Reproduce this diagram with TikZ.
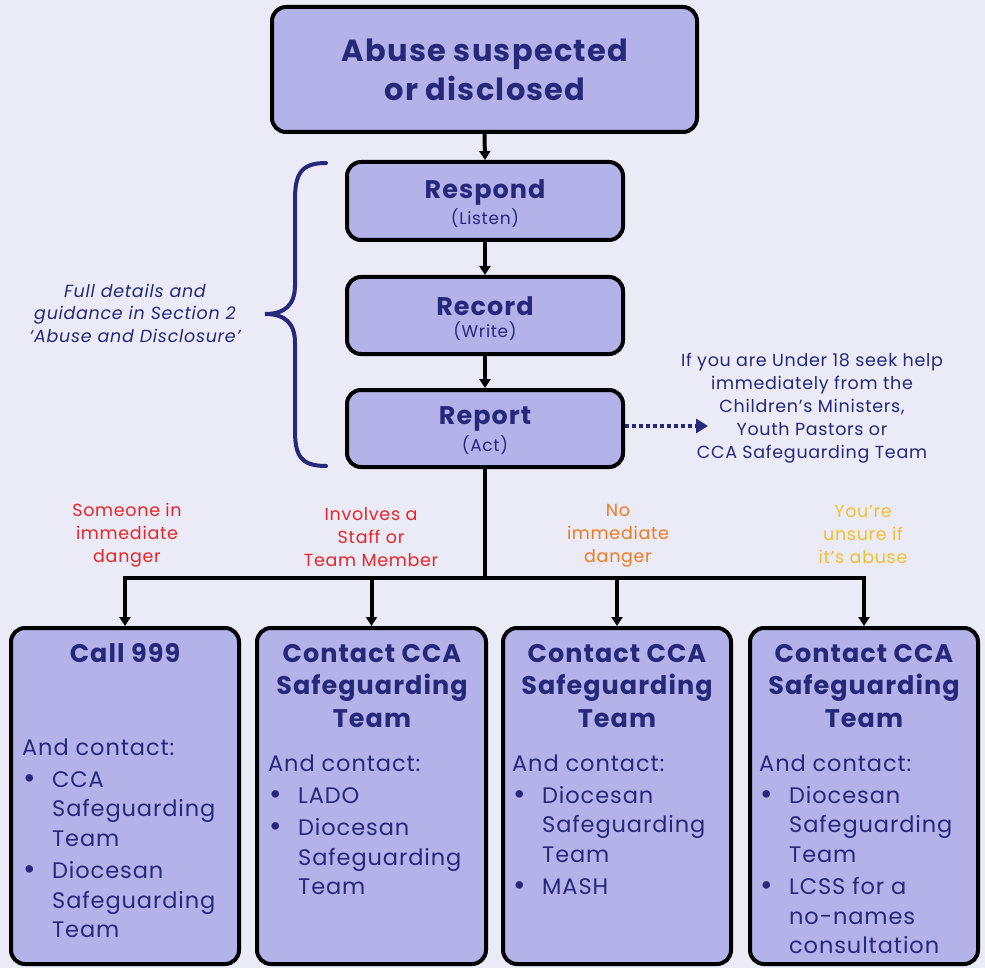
\documentclass[tikz,border=0pt]{standalone}
\usepackage{fontspec}
\setmainfont{Poppins}[LetterSpace=4]
\usetikzlibrary{arrows.meta}
\definecolor{bg}{HTML}{EBEAF7}
\definecolor{boxfill}{HTML}{B3B3EA}
\definecolor{navy}{HTML}{27287A}
\definecolor{lred}{HTML}{E8262A}
\definecolor{lorange}{HTML}{F07A20}
\definecolor{lyellow}{HTML}{F0C030}
\newcommand{\bul}{\makebox[30pt][l]{\hspace*{1pt}\raisebox{-1pt}{\scalebox{1.35}{\textbullet}}}}
\newcommand{\ind}{\hspace*{30pt}}
\begin{document}
\begin{tikzpicture}[x=1pt,y=-1pt,
  box/.style={draw=black,line width=4pt,rounded corners=14pt,fill=boxfill,inner sep=0pt},
  conn/.style={draw=black,line width=4pt,-{Triangle[length=9pt,width=11pt]}},
  plain/.style={draw=black,line width=4pt},
  ttl/.style={text=navy,font=\bfseries\fontsize{25.5}{28}\selectfont,align=center,inner sep=0pt},
  sub/.style={text=navy,font=\fontsize{17}{18}\selectfont,inner sep=0pt},
  lbl/.style={font=\fontsize{17.5}{23}\selectfont,align=center,inner sep=0pt},
  body/.style={text=navy,font=\fontsize{22.5}{29.5}\selectfont,align=left,inner sep=0pt,anchor=north west}]
\fill[bg] (0,0) rectangle (985,968);
\useasboundingbox (0,0) rectangle (985,968);

% main boxes
\node[box,minimum width=425pt,minimum height=125pt] (top) at (484.5,69.5) {};
\node[box,minimum width=276pt,minimum height=78pt] (respond) at (485,201) {};
\node[box,minimum width=276pt,minimum height=77pt] (record) at (485,315.5) {};
\node[box,minimum width=276pt,minimum height=77pt] (report) at (485,428.5) {};

\node[ttl,font=\bfseries\fontsize{30.5}{39}\selectfont] (topT) at (485,69.5) {Abuse suspected\\or disclosed};
\node[ttl] (respondT) at (485,192) {Respond};
\node[sub] (respondS) at (485,218) {(Listen)};
\node[ttl] (recordT) at (485,306) {Record};
\node[sub] (recordS) at (485,331) {(Write)};
\node[ttl] (reportT) at (485,419) {Report};
\node[sub] (reportS) at (485,445) {(Act)};

\draw[conn] (top.south) -- (respond.north);
\draw[conn] (respond.south) -- (record.north);
\draw[conn] (record.south) -- (report.north);

% bottom boxes
\node[box,minimum width=228pt,minimum height=336pt] (b1) at (125,796) {};
\node[box,minimum width=229pt,minimum height=336pt] (b2) at (371.5,796) {};
\node[box,minimum width=228pt,minimum height=336pt] (b3) at (617,796) {};
\node[box,minimum width=228pt,minimum height=336pt] (b4) at (864,796) {};

\coordinate (j) at (485,578);
\draw[plain] (report.south) -- (j);
\draw[conn] (j) -| (b1.north);
\draw[conn] (j) -| (b2.north);
\draw[conn] (j) -| (b3.north);
\draw[conn] (j) -| (b4.north);

% branch labels
\node[lbl,text=lred] (l1) at (127,535) {Someone in\\immediate\\danger};
\node[lbl,text=lred] (l2) at (371,537) {Involves a\\Staff or\\Team Member};
\node[lbl,text=lorange] (l3) at (618,536) {No\\immediate\\danger};
\node[lbl,text=lyellow] (l4) at (863,534) {You’re\\unsure if\\it’s abuse};

% box titles
\node[ttl] (b1T) at (125,653) {Call 999};
\node[ttl,font=\bfseries\fontsize{25.5}{32.5}\selectfont] (b2T) at (372,686) {Contact CCA\\Safeguarding\\Team};
\node[ttl,font=\bfseries\fontsize{25.5}{32.5}\selectfont] (b3T) at (617,686) {Contact CCA\\Safeguarding\\Team};
\node[ttl,font=\bfseries\fontsize{25.5}{32.5}\selectfont] (b4T) at (864,686) {Contact CCA\\Safeguarding\\Team};

% box bodies
\node[body] (b1B) at (22,739) {And contact:\\[2pt]\bul CCA\\\ind Safeguarding\\\ind Team\\[3pt]\bul Diocesan\\\ind Safeguarding\\\ind Team};
\node[body] (b2B) at (268,755) {And contact:\\[2pt]\bul LADO\\[3pt]\bul Diocesan\\\ind Safeguarding\\\ind Team};
\node[body] (b3B) at (512,755) {And contact:\\[2pt]\bul Diocesan\\\ind Safeguarding\\\ind Team\\[3pt]\bul MASH};
\node[body] (b4B) at (759,755) {And contact:\\[2pt]\bul Diocesan\\\ind Safeguarding\\\ind Team\\[3pt]\bul LCSS for a\\\ind no-names\\\ind consultation};

% side note with dotted arrow
\node[lbl,text=navy] (note) at (812,408) {If you are Under 18 seek help\\immediately from the\\Children’s Ministers,\\Youth Pastors or\\CCA Safeguarding Team};
\coordinate (dEnd) at (708,426);
\draw[navy,line width=4pt,dash pattern=on 4pt off 3pt,-{Triangle[length=12pt,width=14pt]}] (report.east |- dEnd) -- (dEnd);

% brace
\coordinate (bt) at (326,163);
\coordinate (bb) at (326,466);
\coordinate (btip) at (265,314);
\draw[navy,line width=4pt,line cap=round] (bt) .. controls (300,163) and (295,175) .. (295,200) -- (295,285) .. controls (295,305) and (285,314) .. (btip) .. controls (285,314) and (295,323) .. (295,343) -- (295,430) .. controls (295,455) and (300,466) .. (bb);
\node[lbl,text=navy,font=\itshape\fontsize{17.5}{22.5}\selectfont] (braceT) at (135,313) {Full details and\\guidance in Section 2\\‘Abuse and Disclosure’};
\end{tikzpicture}
\end{document}
